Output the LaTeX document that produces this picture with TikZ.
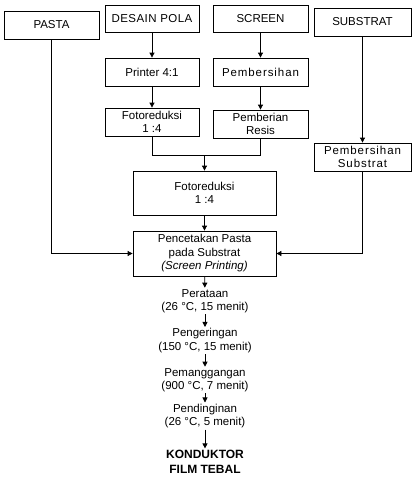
\documentclass[tikz,border=0pt]{standalone}
\usepackage{fontspec}
\setmainfont{Liberation Sans}
\usetikzlibrary{arrows.meta}
\tikzset{
  box/.style={draw, line width=0.8pt, align=center, inner sep=1pt},
  arr/.style={-{Triangle[width=5pt,length=5pt]}},
}
\newcommand{\wide}[1]{{\addfontfeature{LetterSpace=8}#1}}
\begin{document}
\begin{tikzpicture}[x=1pt, y=-1pt, line width=0.8pt, font=\fontsize{11.5}{13.5}\selectfont]
			\useasboundingbox (0,0) rectangle (416,479);
			% input boxes
			\node[box, minimum width=95pt, minimum height=28pt] (pasta) at (51.5,25) {PASTA};
			\node[box, minimum width=94pt, minimum height=27pt] (desain) at (152,18.5) {{\addfontfeature{LetterSpace=4}DESAIN POLA}};
			\node[box, minimum width=95pt, minimum height=27pt] (screen) at (260.5,18.5) {SCREEN};
			\node[box, minimum width=97pt, minimum height=28pt] (substrat) at (362.5,22) {SUBSTRAT};
			% preparation
			\node[box, minimum width=94pt, minimum height=28pt] (printer) at (152,72) {Printer 4:1};
			\node[box, minimum width=94pt, minimum height=28pt] (fotokecil) at (152,122) {Fotoreduksi\\1 :4};
			\node[box, minimum width=95pt, minimum height=28pt] (bersih) at (260.5,72) {\wide{Pembersihan}};
			\node[box, minimum width=95pt, minimum height=28pt] (resis) at (260.5,124) {Pemberian\\Resis};
			\node[box, minimum width=97pt, minimum height=28pt] (bsubstrat) at (362.5,157) {\wide{Pembersihan}\\\wide{Substrat}};
			\node[box, minimum width=143pt, minimum height=44pt] (foto) at (204.5,193) {Fotoreduksi\\1 :4};
			\node[box, minimum width=143pt, minimum height=45pt] (cetak) at (204.5,253.5) {Pencetakan Pasta\\pada Substrat\\\textit{(Screen Printing)}};
			\coordinate (gabung) at (204.5,155);
			% process steps
			\node[align=center, inner sep=1pt] (rata) at (205,301) {Perataan\\(26 °C, 15 menit)};
			\node[align=center, inner sep=1pt] (kering) at (205,340.5) {Pengeringan\\(150 °C, 15 menit)};
			\node[align=center, inner sep=1pt] (panggang) at (205,380) {Pemanggangan\\(900 °C, 7 menit)};
			\node[align=center, inner sep=1pt] (dingin) at (205,416) {Pendinginan\\(26 °C, 5 menit)};
			\node[align=center, inner sep=1pt, font=\fontsize{12}{15}\selectfont\bfseries] (hasil) at (205,461.5) {KONDUKTOR\\FILM TEBAL};
			% connectors
			\draw[arr] (desain) -- (printer);
			\draw[arr] (printer) -- (fotokecil);
			\draw[arr] (screen) -- (bersih);
			\draw[arr] (bersih) -- (resis);
			\draw[arr] (substrat) -- (bsubstrat);
			\draw (fotokecil) |- (gabung);
			\draw (resis) |- (gabung);
			\draw[arr] (gabung) -- (foto);
			\draw[arr] (foto) -- (cetak);
			\draw[arr] (pasta) |- (cetak);
			\draw[arr] (bsubstrat) |- (cetak);
			\draw[arr] (cetak) -- (rata);
			\draw[arr] (rata) -- (kering);
			\draw[arr] (kering) -- (panggang);
			\draw[arr] (panggang) -- (dingin);
			\draw[arr] (dingin) -- (hasil);
		\end{tikzpicture}
\end{document}
